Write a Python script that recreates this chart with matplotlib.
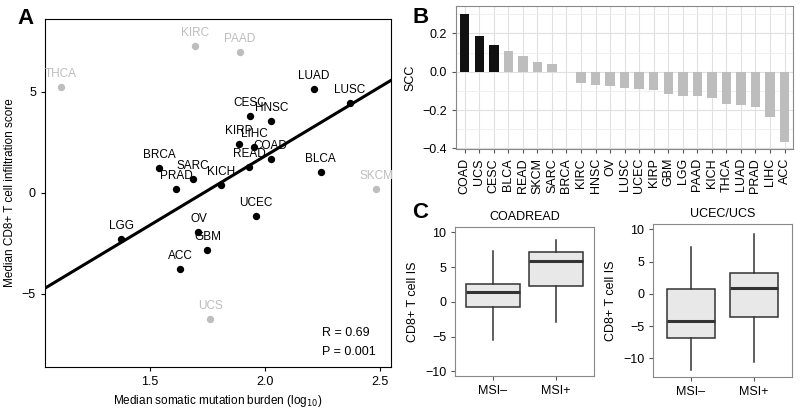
import matplotlib
matplotlib.use('Agg')
import matplotlib.pyplot as plt
import numpy as np

plt.rcParams['font.family'] = ['Liberation Sans', 'DejaVu Sans']
plt.rcParams['font.size'] = 9

# Panel A: median mutation burden vs median CD8+ T cell infiltration
cancers = ['THCA', 'KIRC', 'PAAD', 'LUAD', 'LUSC', 'CESC', 'HNSC', 'KIRP', 'LIHC',
           'COAD', 'READ', 'BRCA', 'SARC', 'PRAD', 'KICH', 'BLCA', 'SKCM', 'UCEC',
           'LGG', 'OV', 'GBM', 'ACC', 'UCS']
burden = [1.115, 1.699, 1.891, 2.213, 2.370, 1.935, 2.028, 1.886, 1.955,
          2.025, 1.932, 1.541, 1.689, 1.616, 1.810, 2.242, 2.484, 1.963,
          1.378, 1.712, 1.751, 1.633, 1.764]
infiltration = [5.25, 7.28, 6.95, 5.12, 4.43, 3.81, 3.53, 2.40, 2.28,
                1.65, 1.29, 1.22, 0.68, 0.18, 0.40, 1.04, 0.20, -1.14,
                -2.31, -1.93, -2.85, -3.79, -6.25]
outliers = ['THCA', 'KIRC', 'PAAD', 'SKCM', 'UCS']
fit_slope = 6.85
fit_intercept = -11.89

# Panel B: SCC per cancer type
scc_cancers = ['COAD', 'UCS', 'CESC', 'BLCA', 'READ', 'SKCM', 'SARC', 'BRCA', 'KIRC',
               'HNSC', 'OV', 'LUSC', 'UCEC', 'KIRP', 'GBM', 'LGG', 'PAAD', 'KICH',
               'THCA', 'LUAD', 'PRAD', 'LIHC', 'ACC']
scc = [0.303, 0.189, 0.139, 0.109, 0.080, 0.052, 0.040, 0.001, -0.059,
       -0.068, -0.073, -0.087, -0.090, -0.097, -0.114, -0.125, -0.125, -0.137,
       -0.166, -0.171, -0.182, -0.234, -0.367]
n_significant = 3

# Panel C: box statistics (whislo, q1, med, q3, whishi)
msi_groups = ['MSI\u2013', 'MSI+']
coadread_stats = [(-5.5, -0.72, 1.44, 2.54, 7.28), (-2.87, 2.3, 5.85, 7.1, 8.86)]
ucec_stats = [(-11.78, -6.87, -4.23, 0.78, 7.24), (-10.5, -3.52, 0.88, 3.30, 9.30)]

fig = plt.figure(figsize=(8, 4.12), dpi=100)

# ---- A
ax = fig.add_axes([0.05625, 0.110, 0.432, 0.844])
for name, x, y in zip(cancers, burden, infiltration):
    col = '#bdbdbd' if name in outliers else 'black'
    ax.scatter(x, y, s=28, color=col, zorder=3, linewidths=0)
    ax.annotate(name, (x, y), xytext=(0, 5), textcoords='offset points',
                ha='center', va='bottom', color=col, fontsize=8.5)
xs = np.array([1.0, 2.6])
ax.plot(xs, fit_intercept + fit_slope * xs, color='black', lw=2.2, zorder=2)
ax.set_xlim(1.046, 2.546)
ax.set_ylim(-8.61, 8.6)
ax.set_xticks([1.5, 2.0, 2.5])
ax.set_yticks([-5, 0, 5])
ax.set_yticklabels(['\u22125', '0', '5'])
ax.set_xlabel('Median somatic mutation burden (log$_{10}$)', fontsize=8.5)
ax.set_ylabel('Median CD8+ T cell infiltration score', fontsize=8.5)
ax.text(0.801, 0.097, 'R = 0.69', transform=ax.transAxes, ha='left', va='center')
ax.text(0.801, 0.042, 'P = 0.001', transform=ax.transAxes, ha='left', va='center')
ax.tick_params(length=3)
fig.text(0.022, 0.955, 'A', fontsize=16, fontweight='bold', va='center')

# ---- B
bx = fig.add_axes([0.570, 0.6383, 0.4216, 0.347])
pos = np.arange(len(scc_cancers))
colors = ['#111111'] * n_significant + ['#bdbdbd'] * (len(scc) - n_significant)
bx.bar(pos, scc, width=0.65, color=colors, zorder=3)
bx.set_xlim(-0.6, len(scc) - 0.4)
bx.set_ylim(-0.403, 0.343)
bx.set_yticks([-0.4, -0.2, 0.0, 0.2])
bx.set_yticklabels(['\u22120.4', '\u22120.2', '0.0', '0.2'])
bx.set_yticks([-0.3, -0.1, 0.1, 0.3], minor=True)
bx.set_xticks(pos)
bx.set_xticklabels(scc_cancers, rotation=90)
bx.grid(True, which='major', color='#e0e0e0', lw=0.8, zorder=0)
bx.grid(True, which='minor', axis='y', color='#eeeeee', lw=0.6, zorder=0)
bx.tick_params(which='minor', length=0)
bx.tick_params(length=3, color='#555555')
bx.set_axisbelow(True)
for s in bx.spines.values():
    s.set_color('#888888')
bx.set_ylabel('SCC')
fig.text(0.515, 0.958, 'B', fontsize=16, fontweight='bold', va='center')

# ---- C
def draw_box(axc, stats, title, width, ylim, yticks):
    items = []
    for label, (lo, q1, med, q3, hi) in zip(msi_groups, stats):
        items.append(dict(label=label, whislo=lo, q1=q1, med=med, q3=q3, whishi=hi, fliers=[]))
    axc.bxp(items, positions=[1, 2], widths=width, patch_artist=True, showcaps=False,
            boxprops=dict(facecolor='#e8e8e8', edgecolor='#333333', lw=1.1),
            whiskerprops=dict(color='#333333', lw=1.1),
            medianprops=dict(color='#333333', lw=2.2))
    axc.set_xlim(0.4, 2.6)
    axc.set_ylim(*ylim)
    axc.set_yticks(yticks)
    axc.set_yticklabels([str(t).replace('-', '\u2212') for t in yticks])
    axc.set_title(title, fontsize=9, pad=5)
    axc.set_ylabel('CD8+ T cell IS')
    axc.tick_params(length=3, color='#555555')
    for s in axc.spines.values():
        s.set_color('#888888')

cx1 = fig.add_axes([0.569, 0.0874, 0.1734, 0.362])
draw_box(cx1, coadread_stats, 'COADREAD', 0.85, (-10.67, 10.78), [-10, -5, 0, 5, 10])
cx2 = fig.add_axes([0.8166, 0.0857, 0.173, 0.370])
draw_box(cx2, ucec_stats, 'UCEC/UCS', 0.75, (-12.82, 10.81), [-10, -5, 0, 5, 10])
fig.text(0.515, 0.485, 'C', fontsize=16, fontweight='bold', va='center')

fig.savefig('out.png', dpi=100)
